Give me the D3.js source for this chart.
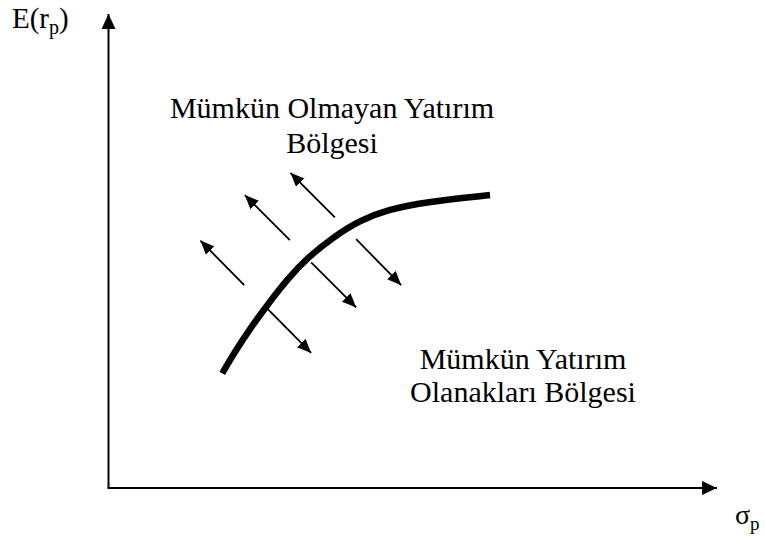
<!DOCTYPE html>
<html>
<head>
<meta charset="utf-8">
<script src="https://cdn.jsdelivr.net/npm/d3@7"></script>
<style>
  html, body { margin: 0; padding: 0; background: #fff; }
  svg { display: block; }
</style>
</head>
<body>
<svg id="chart" width="765" height="540"></svg>
<script>
// Efficient frontier sketch: risk (σp) on x, expected return E(rp) on y, in arbitrary units 0–10.
const frontierRisk   = [1.87, 2.06, 2.33, 2.61, 2.93, 3.26, 3.70, 4.14, 4.58, 5.23, 6.27];
const frontierReturn = [2.42, 2.84, 3.37, 3.86, 4.39, 4.85, 5.30, 5.65, 5.87, 6.04, 6.18];

// Direction arrows: start (x0,y0) -> end (x1,y1)
const arrowX0 = [2.23, 2.98, 3.72, 2.59, 3.33, 4.07];
const arrowY0 = [4.28, 5.23, 5.71, 3.81, 4.76, 5.25];
const arrowX1 = [1.51, 2.24, 2.99, 3.33, 4.07, 4.81];
const arrowY1 = [5.22, 6.18, 6.65, 2.85, 3.81, 4.28];

const regionTop    = ["Mümkün Olmayan Yatırım", "Bölgesi"];
const regionBottom = ["Mümkün Yatırım", "Olanakları Bölgesi"];

const SERIF = "'Liberation Serif', Tinos, 'Times New Roman', Times, serif";

const svg = d3.select("#chart");
const x = d3.scaleLinear().domain([0, 10]).range([108.5, 717]);
const y = d3.scaleLinear().domain([0, 10]).range([488, 14]);

const defs = svg.append("defs");
function head(id, len, wid) {
  defs.append("marker")
    .attr("id", id)
    .attr("markerUnits", "userSpaceOnUse")
    .attr("viewBox", `0 ${-wid / 2} ${len} ${wid}`)
    .attr("refX", len).attr("refY", 0)
    .attr("markerWidth", len).attr("markerHeight", wid)
    .attr("orient", "auto")
    .append("path")
    .attr("d", `M0,${-wid / 2}L${len},0L0,${wid / 2}Z`)
    .attr("fill", "#000");
}
head("axisHead", 15, 14);
head("smallHead", 14, 12);

// axes
svg.append("line")
  .attr("x1", x(0)).attr("y1", y(0))
  .attr("x2", x(0)).attr("y2", y(10))
  .attr("stroke", "#000").attr("stroke-width", 2)
  .attr("marker-end", "url(#axisHead)");
svg.append("line")
  .attr("x1", x(0) - 1).attr("y1", y(0))
  .attr("x2", x(10)).attr("y2", y(0))
  .attr("stroke", "#000").attr("stroke-width", 2)
  .attr("marker-end", "url(#axisHead)");

// frontier
const pts = frontierRisk.map((r, i) => [r, frontierReturn[i]]);
svg.append("path")
  .attr("d", d3.line().x(d => x(d[0])).y(d => y(d[1])).curve(d3.curveBasis)(pts))
  .attr("fill", "none")
  .attr("stroke", "#000")
  .attr("stroke-width", 6.5);

// arrows
svg.selectAll("line.dir")
  .data(arrowX0.map((v, i) => i))
  .join("line")
  .attr("class", "dir")
  .attr("x1", i => x(arrowX0[i])).attr("y1", i => y(arrowY0[i]))
  .attr("x2", i => x(arrowX1[i])).attr("y2", i => y(arrowY1[i]))
  .attr("stroke", "#000").attr("stroke-width", 1.8)
  .attr("marker-end", "url(#smallHead)");

// region labels
function block(lines, cx, baseline, step) {
  svg.append("g").selectAll("text")
    .data(lines)
    .join("text")
    .attr("x", cx)
    .attr("y", (d, i) => baseline + i * step)
    .attr("text-anchor", "middle")
    .attr("font-family", SERIF)
    .attr("font-size", 30)
    .attr("fill", "#000")
    .text(d => d);
}
block(regionTop, 332, 118, 35);
block(regionBottom, 523, 369, 33);

// axis titles
const yt = svg.append("text").attr("x", 12).attr("y", 28)
  .attr("font-family", SERIF).attr("font-size", 29);
yt.append("tspan").text("E(r");
yt.append("tspan").attr("font-size", 20).attr("dy", 6).text("p");
yt.append("tspan").attr("dy", -6).text(")");

const xt = svg.append("text").attr("x", 735).attr("y", 524)
  .attr("font-family", SERIF).attr("font-size", 28);
xt.append("tspan").text("σ");
xt.append("tspan").attr("font-size", 19).attr("dy", 6).text("p");
</script>
</body>
</html>
